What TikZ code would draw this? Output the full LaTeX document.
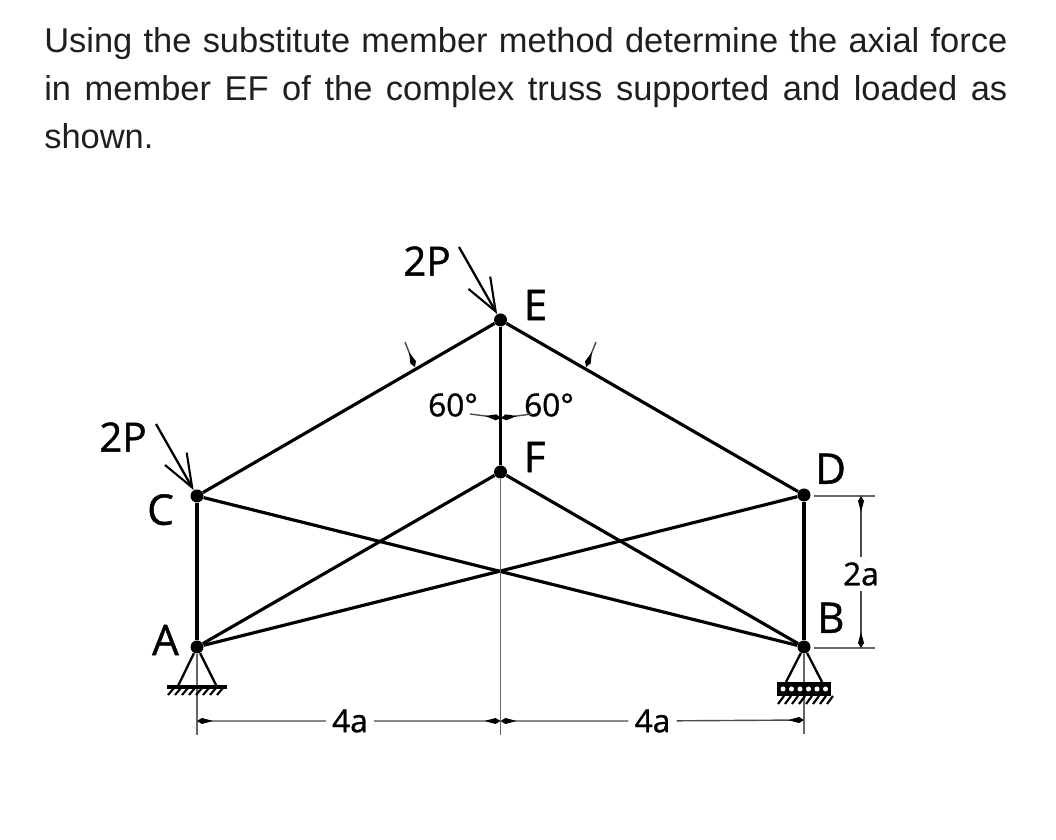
\documentclass[tikz,border=0pt]{standalone}
\usepackage{fontspec}
\setmainfont{Liberation Sans}
\newfontfamily\tagfont[FakeBold=1]{Open Sans}
\usetikzlibrary{arrows.meta}
\usetikzlibrary{positioning}
\tikzset{
    joint/.style={
           circle,
           fill=black,
           inner sep=0pt,
           minimum size=0.26cm},
    member/.style={
           line width=1.8pt,
           black},
    thinline/.style={
           line width=0.7pt,
           black!60},
    dimline/.style={
           line width=0.8pt,
           black!70,
           -{Kite[length=0.32cm,width=0.12cm,inset=0.22cm,black]}},
    load/.style={
           line width=1.3pt,
           -{Straight Barb[length=0.66cm,width=0.5cm,line width=1.2pt]}},
    tag/.style={
           inner sep=0pt,
           font=\tagfont\fontsize{24}{26}\selectfont},
    small/.style={
           inner sep=0pt,
           font=\tagfont\fontsize{18}{20}\selectfont},
}

\begin{document}
\begin{tikzpicture}
 \useasboundingbox (0,0) rectangle (21.12,16.8);

 \node[inner sep=0pt,
 text width=19.26cm,
 align=justify,
 anchor=north west,
 text=black!88,
 font=\fontsize{19.6}{27.3}\selectfont] (QUESTION) at (0.88,16.26)
 {Using the substitute member method determine the axial force\linebreak in member EF of the complex truss supported and loaded as\linebreak shown.};

 % joints
 \node[joint] (A) at (3.94,3.86) {};
 \node[joint,right of=A,node distance=12.14cm] (B) {};
 \node[joint,above of=A,node distance=3.02cm] (C) {};
 \node[joint,above of=B,node distance=3.04cm] (D) {};
 \coordinate[right of=A,node distance=6.07cm] (BASE);
 \node[joint,above of=BASE,node distance=6.54cm] (E) {};
 \node[joint,above of=BASE,node distance=3.5cm] (F) {};
 \coordinate[above of=BASE,node distance=1.52cm] (MID);

 % truss
 \path[member]
 (A) edge (C)
 (B) edge (D)
 (E) edge (F)
 (C) edge (E)
 (E) edge (D)
 (A) edge (F)
 (F) edge (B)
 (C) edge (B)
 (A) edge (D);

 % thin lines
 \coordinate[below of=BASE,node distance=1.76cm] (ENDM);
 \coordinate[below of=A,node distance=1.76cm] (ENDA);
 \coordinate[below of=B,node distance=1.74cm] (ENDB);
 \draw[thinline] (F) -- (ENDM);
 \draw[thinline] (A) -- (ENDA);
 \draw[thinline] (B) -- (ENDB);

 % loads
 \node[tag,font=\tagfont\fontsize{23}{26}\selectfont] (LOADE) at (8.54,11.58) {2P};
 \coordinate (TAILE) at (9.18,11.86);
 \draw[load] (TAILE) -- (E);
 \node[tag,font=\tagfont\fontsize{23}{26}\selectfont] (LOADC) at (2.46,8.06) {2P};
 \coordinate (TAILC) at (3.12,8.32);
 \draw[load] (TAILC) -- (C);

 % joint names
 \node[tag,right=0.32cm of E,yshift=0.3cm] (NAMEE) {E};
 \node[tag,right=0.32cm of F,yshift=0.3cm] (NAMEF) {F};
 \node[tag,above right=0.12cm and 0.12cm of D] (NAMED) {D};
 \node[tag,below left=-0.14cm and 0.36cm of C] (NAMEC) {C};
 \node[tag,left=0.22cm of A,yshift=0.14cm] (NAMEA) {A};
 \node[tag,above right=0.18cm and 0.16cm of B] (NAMEB) {B};

 % angles
 \node[small] (ANGLEL) at (9.06,8.7) {60°};
 \node[small] (ANGLER) at (10.98,8.7) {60°};
 \coordinate (TICKL) at (9.4,8.52);
 \coordinate (TICKR) at (10.64,8.52);
 \coordinate (HITL) at (10.02,8.44);
 \coordinate (HITR) at (10.02,8.44);
 \draw[dimline] (TICKL) -- (HITL);
 \draw[dimline] (TICKR) -- (HITR);
 \coordinate (TICKEC) at (8.1,9.96);
 \coordinate (HITEC) at (8.3,9.46);
 \coordinate (TICKED) at (11.92,9.96);
 \coordinate (HITED) at (11.72,9.46);
 \draw[dimline] (TICKEC) -- (HITEC);
 \draw[dimline] (TICKED) -- (HITED);

 % supports
 \draw[line width=1.3pt] (A) -- ++(-0.38,-0.78) (A) -- ++(0.39,-0.78);
 \draw[line width=2pt] ([xshift=-0.6cm,yshift=-0.8cm]A.center) -- ++(1.2,0);
 \foreach \x in {-0.46,-0.32,...,0.62}
   \draw[line width=1.2pt] ([xshift=\x cm,yshift=-0.82cm]A.center) -- ++(-0.12,-0.14);

 \draw[line width=1.3pt] (B) -- ++(-0.36,-0.7) (B) -- ++(0.36,-0.7);
 \fill ([xshift=-0.54cm,yshift=-0.7cm]B.center) rectangle ++(1.08,-0.28);
 \foreach \x in {-0.42,-0.25,...,0.44}
   \fill[white] ([xshift=\x cm,yshift=-0.84cm]B.center) circle (0.05cm);
 \foreach \x in {-0.4,-0.26,...,0.6}
   \draw[line width=1.2pt] ([xshift=\x cm,yshift=-0.98cm]B.center) -- ++(-0.12,-0.16);

 % dimensions
 \coordinate[below of=A,node distance=1.48cm] (DIMA);
 \coordinate[below of=BASE,node distance=1.48cm] (DIMM);
 \coordinate[below of=B,node distance=1.46cm] (DIMB);
 \node[small,fill=white,inner xsep=0.12cm,inner ysep=1pt] (WIDTHL) at (7.0,2.38) {4a};
 \node[small,fill=white,inner xsep=0.12cm,inner ysep=1pt] (WIDTHR) at (13.05,2.38) {4a};
 \draw[dimline] (WIDTHL) -- (DIMA);
 \draw[dimline] (WIDTHL) -- (DIMM);
 \draw[dimline] (WIDTHR) -- (DIMM);
 \draw[dimline] (WIDTHR) -- (DIMB);

 \coordinate (TOPOUT) at (17.5,6.88);
 \coordinate (BOTOUT) at (17.5,3.84);
 \coordinate (TOPIN) at (16.28,6.88);
 \coordinate (BOTIN) at (16.28,3.84);
 \draw[thinline] (TOPIN) -- (TOPOUT);
 \draw[thinline] (BOTIN) -- (BOTOUT);
 \coordinate (TOPEND) at (17.22,6.88);
 \coordinate (BOTEND) at (17.22,3.84);
 \node[small,fill=white,inner ysep=0.1cm,inner xsep=1pt] (HEIGHT) at (17.22,5.32) {2a};
 \draw[dimline] (HEIGHT) -- (TOPEND);
 \draw[dimline] (HEIGHT) -- (BOTEND);

\end{tikzpicture}
\end{document}
